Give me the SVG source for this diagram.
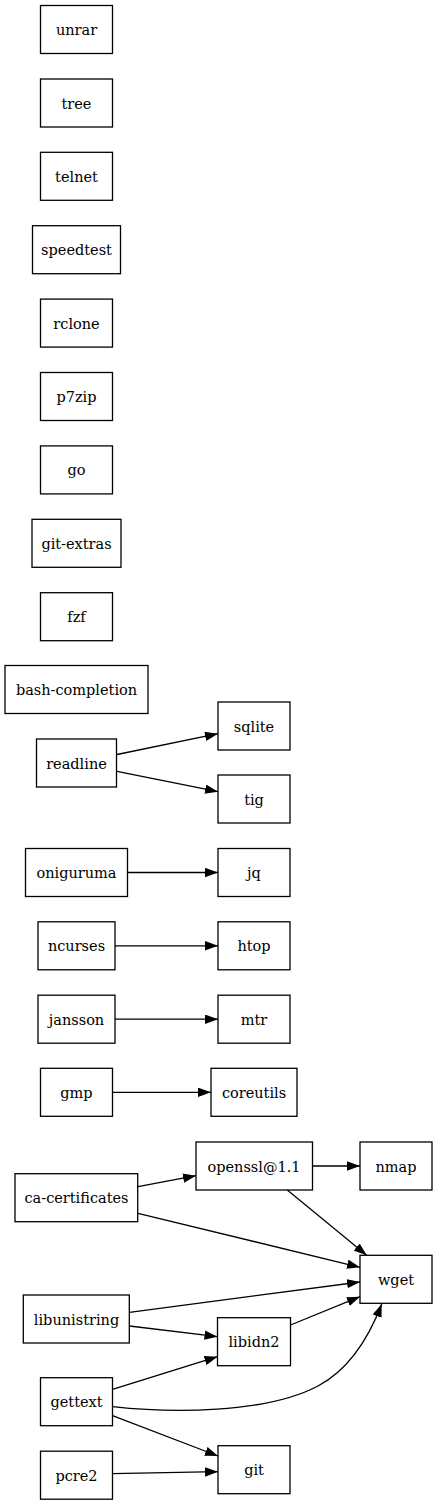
<svg xmlns="http://www.w3.org/2000/svg" width="437" height="1505" viewBox="0 0 437 1505">
<style>
.n rect{fill:#fff;stroke:#000;stroke-width:1.3}
.n text{font-family:'DejaVu Serif',serif;font-size:14.5px;text-anchor:middle;fill:#000}
.e path{fill:none;stroke:#000;stroke-width:1.3}
</style>
<defs>
<marker id="ah" markerUnits="userSpaceOnUse" markerWidth="14" markerHeight="10" refX="13" refY="4.7" orient="auto">
<path d="M0,0 L13,4.7 L0,9.4 z" fill="#000"/>
</marker>
</defs>
<rect width="437" height="1505" fill="#fff"/>
<g id="nodes">
<g class="n" id="unrar"><rect x="40.5" y="5.5" width="72" height="48"/><text x="76.5" y="35">unrar</text></g>
<g class="n" id="tree"><rect x="40.5" y="79" width="72" height="48"/><text x="76.5" y="108.5">tree</text></g>
<g class="n" id="telnet"><rect x="40.5" y="152.3" width="72" height="48"/><text x="76.5" y="181.8">telnet</text></g>
<g class="n" id="speedtest"><rect x="32.5" y="225.7" width="88" height="48"/><text x="76.5" y="255.2">speedtest</text></g>
<g class="n" id="rclone"><rect x="40.5" y="299.1" width="72" height="48"/><text x="76.5" y="328.6">rclone</text></g>
<g class="n" id="p7zip"><rect x="40.5" y="372.5" width="72" height="48"/><text x="76.5" y="402">p7zip</text></g>
<g class="n" id="go"><rect x="40.5" y="445.9" width="72" height="48"/><text x="76.5" y="475.4">go</text></g>
<g class="n" id="git-extras"><rect x="32" y="519.3" width="89" height="48"/><text x="76.5" y="548.8">git-extras</text></g>
<g class="n" id="fzf"><rect x="40.5" y="592.7" width="72" height="48"/><text x="76.5" y="622.2">fzf</text></g>
<g class="n" id="bash-completion"><rect x="5" y="665.5" width="143" height="48"/><text x="76.5" y="695">bash-completion</text></g>
<g class="n" id="readline"><rect x="36.5" y="739" width="80" height="48"/><text x="76.5" y="768.5">readline</text></g>
<g class="n" id="sqlite"><rect x="218" y="702" width="72" height="48"/><text x="254" y="731.5">sqlite</text></g>
<g class="n" id="tig"><rect x="218" y="775" width="72" height="48"/><text x="254" y="804.5">tig</text></g>
<g class="n" id="oniguruma"><rect x="25.5" y="848.5" width="102" height="48"/><text x="76.5" y="878">oniguruma</text></g>
<g class="n" id="jq"><rect x="218" y="848.5" width="72" height="48"/><text x="254" y="878">jq</text></g>
<g class="n" id="ncurses"><rect x="38" y="921.8" width="77" height="48"/><text x="76.5" y="951.3">ncurses</text></g>
<g class="n" id="htop"><rect x="218" y="921.8" width="72" height="48"/><text x="254" y="951.3">htop</text></g>
<g class="n" id="jansson"><rect x="38" y="995.2" width="77" height="48"/><text x="76.5" y="1024.7">jansson</text></g>
<g class="n" id="mtr"><rect x="218" y="995.2" width="72" height="48"/><text x="254" y="1024.7">mtr</text></g>
<g class="n" id="gmp"><rect x="40.5" y="1068.3" width="72" height="48"/><text x="76.5" y="1097.8">gmp</text></g>
<g class="n" id="coreutils"><rect x="211" y="1068.3" width="86" height="48"/><text x="254" y="1097.8">coreutils</text></g>
<g class="n" id="openssl"><rect x="196" y="1142" width="116.5" height="48"/><text x="254" y="1171.5">openssl@1.1</text></g>
<g class="n" id="nmap"><rect x="360" y="1142" width="72" height="48"/><text x="396" y="1171.5">nmap</text></g>
<g class="n" id="ca-certificates"><rect x="15" y="1173.7" width="122.7" height="48"/><text x="76.5" y="1203.2">ca-certificates</text></g>
<g class="n" id="wget"><rect x="360" y="1255.3" width="72" height="48"/><text x="396" y="1284.8">wget</text></g>
<g class="n" id="libunistring"><rect x="23.3" y="1295" width="106" height="48"/><text x="76.5" y="1324.5">libunistring</text></g>
<g class="n" id="libidn2"><rect x="217.5" y="1317.7" width="73" height="48"/><text x="254" y="1347.2">libidn2</text></g>
<g class="n" id="gettext"><rect x="40.5" y="1377.7" width="72" height="48"/><text x="76.5" y="1407.2">gettext</text></g>
<g class="n" id="git"><rect x="218" y="1445.7" width="72" height="48"/><text x="254" y="1475.2">git</text></g>
<g class="n" id="pcre2"><rect x="40.5" y="1451.2" width="72" height="48"/><text x="76.5" y="1480.7">pcre2</text></g>
</g>
<g class="e" id="edges">
<path marker-end="url(#ah)" d="M117,754.5 L218,733.7"/>
<path marker-end="url(#ah)" d="M117,771.3 L218,791.7"/>
<path marker-end="url(#ah)" d="M128,872.5 L218,872.5"/>
<path marker-end="url(#ah)" d="M115,945.8 L218,945.8"/>
<path marker-end="url(#ah)" d="M115,1019.2 L218,1019.2"/>
<path marker-end="url(#ah)" d="M112.5,1092.3 L211,1092.3"/>
<path marker-end="url(#ah)" d="M138,1186.7 L196,1175.7"/>
<path marker-end="url(#ah)" d="M312.5,1166 L360,1166"/>
<path marker-end="url(#ah)" d="M287.3,1190 L366.7,1255.3"/>
<path marker-end="url(#ah)" d="M138,1213.3 L360,1267.3"/>
<path marker-end="url(#ah)" d="M129.5,1312.3 L360,1282"/>
<path marker-end="url(#ah)" d="M290.5,1325 L360,1296.7"/>
<path marker-end="url(#ah)" d="M129.5,1326 L217.5,1336.7"/>
<path marker-end="url(#ah)" d="M112.5,1389.3 L217.5,1356.7"/>
<path marker-end="url(#ah)" d="M112.5,1406.7 C170,1413 265,1414 318,1386 C348,1370 368,1340 381.7,1304"/>
<path marker-end="url(#ah)" d="M112.5,1415.7 L218,1456"/>
<path marker-end="url(#ah)" d="M112.5,1473.7 L218,1471.7"/>
</g>
</svg>
